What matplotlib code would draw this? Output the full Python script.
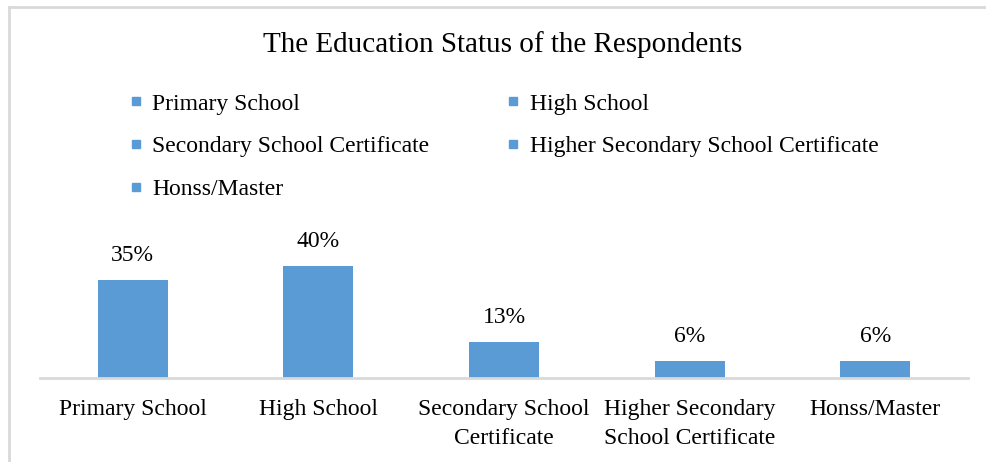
import matplotlib
matplotlib.use('Agg')
import matplotlib.pyplot as plt
from matplotlib.lines import Line2D

categories = ['Primary School', 'High School', 'Secondary School Certificate',
              'Higher Secondary School Certificate', 'Honss/Master']
tick_labels = ['Primary School', 'High School', 'Secondary School\nCertificate',
               'Higher Secondary\nSchool Certificate', 'Honss/Master']
values = [35, 40, 13, 6, 6]

plt.rcParams['font.family'] = ['Liberation Serif', 'DejaVu Serif']
blue = '#5B9BD5'
grey = '#D9D9D9'
fs = 17

fig = plt.figure(figsize=(9.86, 4.62), dpi=100)
ax = fig.add_axes([40/986, 1-378/462, 928/986, 140/462])

x = list(range(len(values)))
bars = ax.bar(x, values, width=0.377, color=blue)
for xi, v in zip(x, values):
    ax.annotate('{}%'.format(v), (xi, v), xytext=(0, 10), textcoords='offset points',
                ha='center', va='bottom', fontsize=fs)

ax.set_xlim(-0.5, 4.5)
ax.set_ylim(0, 50)
ax.set_xticks(x)
ax.set_xticklabels(tick_labels, fontsize=fs, linespacing=1.5)
ax.tick_params(axis='x', length=0, pad=15)
ax.set_yticks([])
for s in ['left', 'right', 'top']:
    ax.spines[s].set_visible(False)
ax.spines['bottom'].set_color(grey)
ax.spines['bottom'].set_linewidth(2)

fig.text(503/986, 1-45/462, 'The Education Status of the Respondents',
         ha='center', va='center', fontsize=21)

# legend: column-first ordering for 2 columns
order = [0, 2, 4, 1, 3]
handles = [Line2D([], [], ls='none', marker='s', markersize=5.2, color=blue,
                  label=categories[i]) for i in order]
fig.legend(handles=handles, loc='upper left', bbox_to_anchor=(130/986, 1-93/462),
           ncol=2, frameon=False, fontsize=fs, handlelength=0.5,
           handletextpad=0.45, columnspacing=3.3, labelspacing=0.9, borderpad=0,
           borderaxespad=0)

# chart frame (left and top edges visible)
fig.add_artist(Line2D([9/986, 9/986], [0, 1-7/462], color=grey, lw=2))
fig.add_artist(Line2D([9/986, 1], [1-7/462, 1-7/462], color=grey, lw=2))

fig.savefig('out.png', dpi=100)
